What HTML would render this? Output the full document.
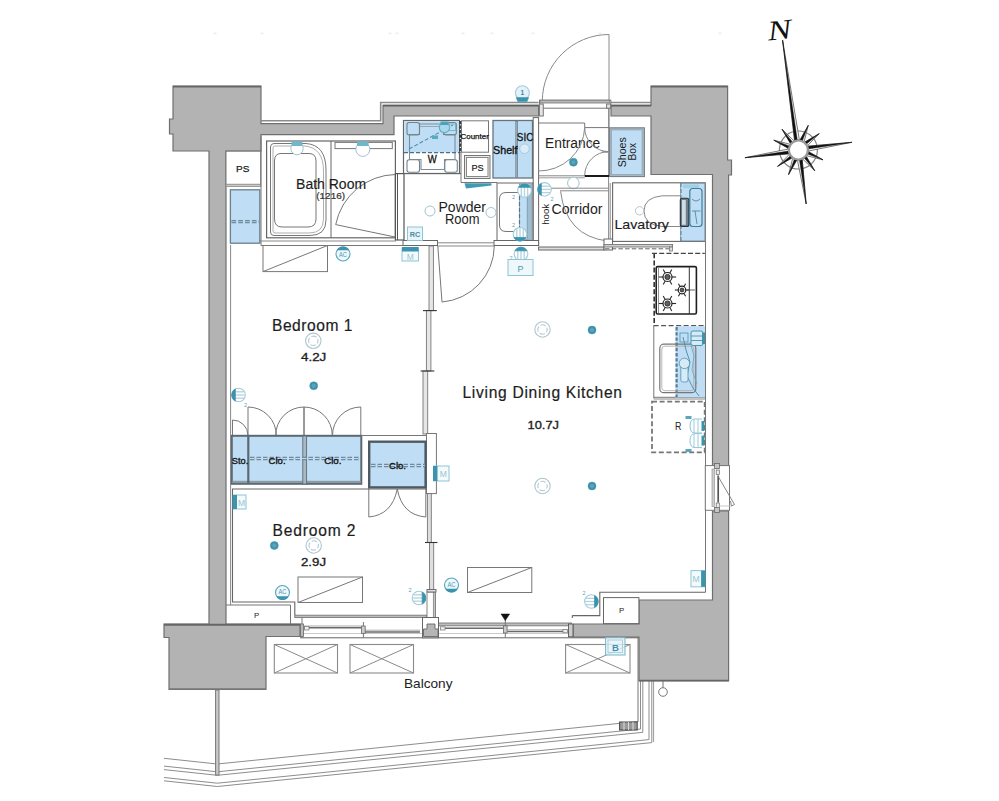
<!DOCTYPE html>
<html lang="en"><head><meta charset="utf-8"><title>Floor plan</title>
<style>html,body{margin:0;padding:0;background:#fff;overflow:hidden;}svg{display:block;}</style>
</head><body>
<svg width="999" height="801" viewBox="0 0 999 801" font-family="'Liberation Sans', sans-serif">
<rect width="999" height="801" fill="#fff"/>
<line x1="213.5" y1="33.2" x2="216.5" y2="33.2" stroke="#e4e4e4" stroke-width="1" />
<line x1="260.5" y1="33.2" x2="263.5" y2="33.2" stroke="#e4e4e4" stroke-width="1" />
<line x1="388.5" y1="33.2" x2="391.5" y2="33.2" stroke="#e4e4e4" stroke-width="1" />
<line x1="395.5" y1="33.2" x2="398.5" y2="33.2" stroke="#e4e4e4" stroke-width="1" />
<line x1="461.5" y1="33.2" x2="464.5" y2="33.2" stroke="#e4e4e4" stroke-width="1" />
<line x1="490.5" y1="33.2" x2="493.5" y2="33.2" stroke="#e4e4e4" stroke-width="1" />
<line x1="531.5" y1="33.2" x2="534.5" y2="33.2" stroke="#e4e4e4" stroke-width="1" />
<line x1="598.5" y1="33.2" x2="601.5" y2="33.2" stroke="#e4e4e4" stroke-width="1" />
<line x1="718.5" y1="33.2" x2="721.5" y2="33.2" stroke="#e4e4e4" stroke-width="1" />
<g id="railing">
<polyline points="164,758.297 217.3,764 638,721.5" fill="none" stroke="#8d8d8d" stroke-width="1" />
<polyline points="164,766.097 217.3,771.8 640.5,729.047" fill="none" stroke="#8d8d8d" stroke-width="1" />
<line x1="640.5" y1="681" x2="640.5" y2="729.047" stroke="#8d8d8d" stroke-width="1" />
<polyline points="164,769.597 217.3,775.3 642.8,732.315" fill="none" stroke="#8d8d8d" stroke-width="1" />
<line x1="642.8" y1="681" x2="642.8" y2="732.315" stroke="#8d8d8d" stroke-width="1" />
<polyline points="164,777.497 217.3,783.2 649,739.589" fill="none" stroke="#8d8d8d" stroke-width="1" />
<line x1="649" y1="681" x2="649" y2="739.589" stroke="#8d8d8d" stroke-width="1" />
<polyline points="164,780.797 217.3,786.5 651.8,742.606" fill="none" stroke="#8d8d8d" stroke-width="1" />
<line x1="651.8" y1="681" x2="651.8" y2="742.606" stroke="#8d8d8d" stroke-width="1" />
<line x1="638" y1="637" x2="638" y2="722" stroke="#777" stroke-width="1" />
<line x1="653.6" y1="681" x2="653.6" y2="742" stroke="#9a9a9a" stroke-width="1" />
<rect x="215.6" y="690" width="3.4" height="85" fill="#c9c9c9" stroke="#777" stroke-width="1" />
<rect x="619.6" y="722" width="17.6" height="8" fill="#9a9a9a" stroke="#444" stroke-width="1" />
<line x1="624" y1="722" x2="624" y2="730" stroke="#ddd" stroke-width="1" />
<line x1="628.5" y1="722" x2="628.5" y2="730" stroke="#ddd" stroke-width="1" />
<line x1="633" y1="722" x2="633" y2="730" stroke="#ddd" stroke-width="1" />
<line x1="663" y1="681" x2="663" y2="688" stroke="#777" stroke-width="1" />
<circle cx="663" cy="692" r="4.3" fill="#fff" stroke="#777" stroke-width="1" />
</g>
<g id="walls">
<polygon points="173,86 261,86 261,123.6 383,123.6 383,105.3 538.6,105.3 538.6,116 394,116 394,134.7 261,134.7 261,151 226,151 226,624 300,624 300,636.5 266,636.5 266,689.5 169,689.5 169,637.5 164,637.5 164,624 209,624 209,151 173,151 173,134 169.5,134 169.5,119 173,119" fill="#b3b3b3" stroke="#6f6f6f" stroke-width="1.2" />
<polygon points="611,105.3 651,105.3 651,86 727.6,86 727.6,160 731.5,160 731.5,175 728.6,175 728.6,466 712.5,466 712.5,174.5 651,174.5 651,116 611,116" fill="#b3b3b3" stroke="#6f6f6f" stroke-width="1.2" />
<polygon points="712.5,511 728.6,511 728.6,681 639,681 639,637 573,637 573,624 639,624 639,600 712.5,600" fill="#b3b3b3" stroke="#6f6f6f" stroke-width="1.2" />
<line x1="173" y1="86.6" x2="261" y2="86.6" stroke="#666" stroke-width="1.8" />
<line x1="164" y1="624.8" x2="300" y2="624.8" stroke="#666" stroke-width="2" />
<line x1="651" y1="86.6" x2="727.6" y2="86.6" stroke="#666" stroke-width="1.8" />
<line x1="169" y1="689" x2="266" y2="689" stroke="#777" stroke-width="1.6" />
<line x1="639" y1="680.5" x2="728.6" y2="680.5" stroke="#666" stroke-width="1.6" />
<polyline points="261,120.7 380.7,120.7 380.7,102.5 538.6,102.5" fill="none" stroke="#8c8c8c" stroke-width="1.6" />
<line x1="611" y1="102.5" x2="651" y2="102.5" stroke="#8c8c8c" stroke-width="1.6" />
<line x1="383" y1="105.6" x2="538.6" y2="105.6" stroke="#5e5e5e" stroke-width="1.6" />
<line x1="611" y1="105.6" x2="651" y2="105.6" stroke="#5e5e5e" stroke-width="1.6" />
</g>
<g id="door">
<path d="M609,34.5 L609,101 M609,34.5 A66.7,66.7 0 0 0 542.3,101" fill="none" stroke="#8a8a8a" stroke-width="1" />
<rect x="539.5" y="100.2" width="71.3" height="8" fill="#fff" stroke="#777" stroke-width="1" />
<rect x="540" y="100.2" width="69.5" height="2.8" fill="#b9b9b9" stroke="#777" stroke-width="0.8" />
<rect x="539.4" y="104" width="3.9" height="12" fill="#e4e4e4" stroke="#777" stroke-width="1" />
<rect x="606.6" y="104" width="4" height="4.2" fill="#e4e4e4" stroke="#777" stroke-width="1" />
<line x1="609" y1="108.5" x2="609" y2="128" stroke="#777" stroke-width="1" />
</g>
<g id="leftcol">
<rect x="226" y="151.2" width="34.7" height="33.8" fill="#fff" stroke="#777" stroke-width="1" />
<rect x="226" y="184.2" width="34.7" height="2.2" fill="#c9c9c9" stroke="#888" stroke-width="0.8" />
<rect x="230.4" y="189.8" width="29.4" height="53.4" fill="#bfdef5" stroke="#6b7f8c" stroke-width="1.3" />
<line x1="231.5" y1="221.6" x2="259" y2="221.6" stroke="#6c8799" stroke-width="3.4" stroke-dasharray="4.6,2.2"/>
<line x1="231.5" y1="221.6" x2="259" y2="221.6" stroke="#a9c6d8" stroke-width="1" stroke-dasharray="4.6,2.2"/>
<line x1="230.6" y1="245" x2="230.6" y2="605" stroke="#888" stroke-width="1" />
<text x="236" y="172.2" font-size="9.6" text-anchor="start" fill="#222" font-weight="normal" textLength="13.4" lengthAdjust="spacingAndGlyphs" stroke="#222" stroke-width="0.25" >PS</text>
</g>
<g id="bath">
<rect x="266.6" y="141" width="128.8" height="96.8" fill="#fff" stroke="#666" stroke-width="1.2" />
<line x1="261" y1="245.5" x2="403" y2="245.5" stroke="#777" stroke-width="1" />
<line x1="260" y1="241" x2="396" y2="241" stroke="#888" stroke-width="1" />
<line x1="261" y1="136.5" x2="261" y2="245.5" stroke="#777" stroke-width="1" />
<line x1="331" y1="141" x2="331" y2="237.8" stroke="#666" stroke-width="1" />
<path d="M274,143.5 L306,143.5 Q326,145 326,170 L326,220 Q326,235.5 310,235.5 L274,235.5 Q270.5,235.5 270.5,232 L270.5,147 Q270.5,143.5 274,143.5 Z" fill="none" stroke="#777" stroke-width="1" />
<path d="M274.5,146 L305,146 Q323.5,148 323.5,171 L323.5,219 Q323.5,233 309,233 L275,233 Q273,233 273,231 L273,148 Q273,146 274.5,146 Z" fill="none" stroke="#9a9a9a" stroke-width="0.8" />
<path d="M281,153.5 L309,153.5 Q316,153.5 316,161 L316,219 Q316,227 308,227 L282,227 Q274.5,227 274.5,219 L274.5,161 Q274.5,153.5 281,153.5 Z" fill="none" stroke="#777" stroke-width="1" />
<rect x="335" y="142.4" width="57.3" height="6.2" fill="#fff" stroke="#777" stroke-width="1" />
<path d="M395.4,174.5 A62,62 0 0 0 335.7,224.6 L395,237" fill="none" stroke="#777" stroke-width="1" />
<circle cx="297" cy="148.6" r="6.2" fill="#fff" stroke="#9fc3d0" stroke-width="1" />
<rect x="291.5" y="141.6" width="11" height="4.4" fill="#6fb7cb" stroke="none" stroke-width="0" />
<circle cx="362.8" cy="149.4" r="7" fill="#fff" stroke="#9fc3d0" stroke-width="1" />
<rect x="357" y="141.6" width="11.6" height="4.4" fill="#6fb7cb" stroke="none" stroke-width="0" />
<text x="296.1" y="188.5" font-size="14" text-anchor="start" fill="#1d1d1d" font-weight="normal" textLength="70" lengthAdjust="spacingAndGlyphs" stroke="#1d1d1d" stroke-width="0.15" >Bath Room</text>
<text x="316.3" y="198.6" font-size="8.5" text-anchor="start" fill="#333" font-weight="normal" textLength="28.7" lengthAdjust="spacingAndGlyphs" stroke="#333" stroke-width="0.2" >(1216)</text>
<rect x="395.4" y="173.6" width="8.6" height="66.4" fill="#fff" stroke="#555" stroke-width="1.2" />
<line x1="397.5" y1="174" x2="397.5" y2="240" stroke="#555" stroke-width="1" />
</g>
<g id="utility">
<rect x="403.5" y="120.5" width="56" height="53" fill="#fff" stroke="#666" stroke-width="1.2" />
<rect x="404.2" y="121.2" width="54.8" height="31.3" fill="#bfdef5" stroke="none" stroke-width="0" />
<path d="M419.5,124 L443.5,124 L443.5,134.5 L455,134.5 L455,159.5 L444.5,159.5 L444.5,169.5 L421,169.5 L421,159.5 L409.5,159.5 L409.5,134.5 L419.5,134.5 Z" fill="none" stroke="#7f8d96" stroke-width="1.1" />
<path d="M419.5,126.5 L443.5,126.5" fill="none" stroke="#8fa3ae" stroke-width="0.9" />
<rect x="407" y="122.5" width="12.5" height="12.5" fill="none" stroke="#71828c" stroke-width="1.1" rx="2.2"/>
<rect x="443.8" y="122.5" width="12.5" height="12.5" fill="none" stroke="#71828c" stroke-width="1.1" rx="2.2"/>
<rect x="407" y="159.8" width="12.5" height="12.5" fill="#fff" stroke="#71828c" stroke-width="1.1" rx="2.2"/>
<rect x="444.8" y="159.8" width="12.5" height="12.5" fill="#fff" stroke="#71828c" stroke-width="1.1" rx="2.2"/>
<line x1="404" y1="152.6" x2="459.5" y2="152.6" stroke="#4f6f80" stroke-width="1.3" stroke-dasharray="4,2"/>
<line x1="409" y1="149" x2="453" y2="125" stroke="#4f8fa6" stroke-width="1.1" stroke-dasharray="4,2"/>
<circle cx="444.5" cy="127.5" r="5.2" fill="#a8d8ea" stroke="#63b0c8" stroke-width="1.2" />
<rect x="440.5" y="121.5" width="8" height="3.5" fill="#4aa3bd" stroke="none" stroke-width="0" />
<rect x="449.5" y="124" width="6" height="6.5" fill="none" stroke="#6fb6cb" stroke-width="0.9" />
<rect x="432" y="135.5" width="6" height="3.5" fill="#5aa9c0" stroke="none" stroke-width="0" />
<line x1="460.3" y1="121" x2="460.3" y2="153" stroke="#3a3f44" stroke-width="2.4" stroke-dasharray="3.2,1.3"/>
<rect x="461.5" y="120.8" width="27" height="31.4" fill="#fff" stroke="#777" stroke-width="1" />
<text x="460.5" y="139.2" font-size="7.5" text-anchor="start" fill="#111" font-weight="normal" textLength="28.3" lengthAdjust="spacingAndGlyphs" stroke="#111" stroke-width="0.25" >Counter</text>
<text x="427.8" y="163" font-size="10.5" text-anchor="start" fill="#111" font-weight="normal" textLength="9" lengthAdjust="spacingAndGlyphs" stroke="#111" stroke-width="0.3" >W</text>
<rect x="464.5" y="155.5" width="25.5" height="23" fill="#e9e9e9" stroke="#777" stroke-width="1" />
<rect x="466.5" y="157.5" width="21.5" height="19" fill="#fff" stroke="#888" stroke-width="1" />
<text x="471.5" y="171" font-size="9.3" text-anchor="start" fill="#222" font-weight="normal" textLength="12.2" lengthAdjust="spacingAndGlyphs" stroke="#222" stroke-width="0.2" >PS</text>
<polyline points="461,152.3 461,182.5 497,182.5" fill="none" stroke="#777" stroke-width="1" />
<polygon points="464.5,183.3 491.5,183.3 491.5,185.5 466,188.5" fill="#3f9ab3" stroke="none" stroke-width="0" />
<rect x="493" y="120.5" width="39.5" height="57.5" fill="#bfdef5" stroke="#64747f" stroke-width="1.3" />
<rect x="515.8" y="121" width="1.8" height="56.5" fill="#9db4c2" stroke="#6a7b87" stroke-width="0.7" />
<circle cx="524.5" cy="148.7" r="4.8" fill="#d9ecf8" stroke="#a9c9d8" stroke-width="1" />
<text x="493" y="153.5" font-size="11.5" text-anchor="start" fill="#111" font-weight="normal" textLength="24.5" lengthAdjust="spacingAndGlyphs" stroke="#111" stroke-width="0.35" >Shelf</text>
<text x="516.8" y="141" font-size="11.5" text-anchor="start" fill="#111" font-weight="normal" textLength="16.5" lengthAdjust="spacingAndGlyphs" stroke="#111" stroke-width="0.3" >SIC</text>
<rect x="533.2" y="117.6" width="5.4" height="127.9" fill="#fff" stroke="#666" stroke-width="1" />
</g>
<g id="powder">
<line x1="403" y1="173.6" x2="461" y2="173.6" stroke="#666" stroke-width="1" />
<rect x="403" y="240.5" width="34.5" height="5" fill="#fff" stroke="#666" stroke-width="1" />
<rect x="494" y="240.5" width="44.6" height="5" fill="#fff" stroke="#666" stroke-width="1" />
<rect x="497" y="183" width="35.8" height="57.5" fill="#fff" stroke="#666" stroke-width="1" />
<rect x="519.5" y="184" width="12" height="55.5" fill="#bfdef5" stroke="#7b97a8" stroke-width="0.8" />
<path d="M519,192.5 L506,192.5 Q499.5,192.5 499.5,199 L499.5,225 Q499.5,231.5 506,231.5 L519,231.5" fill="none" stroke="#777" stroke-width="1" />
<line x1="519.5" y1="190" x2="519.5" y2="236" stroke="#55788c" stroke-width="1.2" stroke-dasharray="4,2"/>
<rect x="527.3" y="184.5" width="4.2" height="55" fill="#9fbdd0" stroke="none" stroke-width="0" />
<line x1="527.3" y1="185" x2="527.3" y2="239" stroke="#7f9fb2" stroke-width="1" />
<circle cx="524.5" cy="190.5" r="6.8" fill="#fff" stroke="#a6cbd8" stroke-width="1.1" />
<g transform="rotate(90 524.5 190.5)">
<line x1="520" y1="187.3" x2="530" y2="187.3" stroke="#b3d3de" stroke-width="1.3" />
<line x1="519.2" y1="190.5" x2="530.8" y2="190.5" stroke="#b3d3de" stroke-width="1.3" />
<line x1="520" y1="193.7" x2="530" y2="193.7" stroke="#b3d3de" stroke-width="1.3" />
<path d="M521.3,184.5 A6.8,6.8 0 0 0 521.3,196.5 Z" fill="#3b93ad" stroke="#3b93ad" stroke-width="0.8" />
</g>
<circle cx="520" cy="234.3" r="6.8" fill="#fff" stroke="#a6cbd8" stroke-width="1.1" />
<g transform="rotate(270 520 234.3)">
<line x1="515.5" y1="231.1" x2="525.5" y2="231.1" stroke="#b3d3de" stroke-width="1.3" />
<line x1="514.7" y1="234.3" x2="526.3" y2="234.3" stroke="#b3d3de" stroke-width="1.3" />
<line x1="515.5" y1="237.5" x2="525.5" y2="237.5" stroke="#b3d3de" stroke-width="1.3" />
<path d="M516.8,228.3 A6.8,6.8 0 0 0 516.8,240.3 Z" fill="#3b93ad" stroke="#3b93ad" stroke-width="0.8" />
</g>
<text x="512" y="199" font-size="5.5" text-anchor="start" fill="#5a9db3" font-weight="normal" >2</text>
<text x="512" y="227" font-size="5.5" text-anchor="start" fill="#5a9db3" font-weight="normal" >2</text>
<circle cx="430" cy="211" r="5" fill="#fff" stroke="#9fc3d0" stroke-width="1" />
<circle cx="491" cy="212.5" r="5" fill="#fff" stroke="#9fc3d0" stroke-width="1" />
<text x="438.5" y="212" font-size="14.5" text-anchor="start" fill="#1d1d1d" font-weight="normal" textLength="47.5" lengthAdjust="spacingAndGlyphs" >Powder</text>
<text x="445" y="224.2" font-size="14.5" text-anchor="start" fill="#1d1d1d" font-weight="normal" textLength="34.5" lengthAdjust="spacingAndGlyphs" >Room</text>
<rect x="407.5" y="227" width="15" height="13.5" fill="#eaf5f9" stroke="#8fc4d4" stroke-width="1" />
<text x="415" y="237" font-size="7.8" text-anchor="middle" fill="#3f8fa8" font-weight="bold" textLength="10.5" lengthAdjust="spacingAndGlyphs" >RC</text>
<line x1="437.5" y1="242.8" x2="494" y2="242.8" stroke="#888" stroke-width="1" />
<line x1="437.5" y1="246" x2="494" y2="246" stroke="#888" stroke-width="1" />
<path d="M437.8,246 L442,302 A56.7,56.7 0 0 0 494.3,246" fill="none" stroke="#777" stroke-width="1" />
</g>
<g id="entrance">
<line x1="608.6" y1="108.5" x2="608.6" y2="246" stroke="#8a8a8a" stroke-width="1" />
<polyline points="538.6,123 584.7,123 584.7,127.6 609,127.6" fill="none" stroke="#777" stroke-width="1" />
<rect x="609.6" y="127.8" width="34.8" height="48.8" fill="#a9b7c1" stroke="#6d7a84" stroke-width="1" />
<rect x="611.6" y="130" width="30.4" height="44.3" fill="#bfdef5" stroke="#8aa0ae" stroke-width="0.6" />
<text transform="translate(626.2,152.3) rotate(-90)" font-size="11.5" text-anchor="middle" fill="#222" textLength="30" lengthAdjust="spacingAndGlyphs">Shoes</text>
<text transform="translate(636,151.7) rotate(-90)" font-size="11.5" text-anchor="middle" fill="#222" textLength="17.5" lengthAdjust="spacingAndGlyphs">Box</text>
<text x="545" y="147.8" font-size="14" text-anchor="start" fill="#1d1d1d" font-weight="normal" textLength="55.3" lengthAdjust="spacingAndGlyphs" >Entrance</text>
<circle cx="573.4" cy="162.2" r="4" fill="#3f93ad" stroke="#3f93ad" stroke-width="0.5" />
<circle cx="573.4" cy="162.2" r="2" fill="#5aa4ba" stroke="none" stroke-width="0" />
<path d="M538,171 A46,45 0 0 0 584.7,127.6" fill="none" stroke="#888" stroke-width="1" />
<path d="M584.7,127.6 A24,24 0 0 0 608.6,151.6" fill="none" stroke="#888" stroke-width="1" />
<path d="M608.6,151.6 A24,24 0 0 0 584.7,175.6" fill="none" stroke="#888" stroke-width="1" />
<line x1="602" y1="151.8" x2="608.6" y2="152.2" stroke="#888" stroke-width="1" />
<line x1="538.6" y1="175.8" x2="584.7" y2="175.8" stroke="#888" stroke-width="1" />
<line x1="538.6" y1="177.8" x2="584.7" y2="177.8" stroke="#999" stroke-width="1" />
<line x1="584.7" y1="176" x2="609" y2="176" stroke="#1a1a1a" stroke-width="2" />
<circle cx="573.4" cy="183" r="5.8" fill="#fff" stroke="#9fc3d0" stroke-width="1" />
<line x1="538.6" y1="188.2" x2="608.6" y2="188.2" stroke="#888" stroke-width="1" />
<line x1="560" y1="190.8" x2="608.6" y2="190.8" stroke="#888" stroke-width="1" />
<circle cx="544.5" cy="189.4" r="6.8" fill="#fff" stroke="#a6cbd8" stroke-width="1.1" />
<g transform="rotate(0 544.5 189.4)">
<line x1="540" y1="186.2" x2="550" y2="186.2" stroke="#b3d3de" stroke-width="1.3" />
<line x1="539.2" y1="189.4" x2="550.8" y2="189.4" stroke="#b3d3de" stroke-width="1.3" />
<line x1="540" y1="192.6" x2="550" y2="192.6" stroke="#b3d3de" stroke-width="1.3" />
<path d="M541.3,183.4 A6.8,6.8 0 0 0 541.3,195.4 Z" fill="#3b93ad" stroke="#3b93ad" stroke-width="0.8" />
</g>
<text x="550.5" y="200.5" font-size="5.5" text-anchor="start" fill="#5a9db3" font-weight="normal" >2</text>
<text transform="translate(548.7,214.3) rotate(-90)" font-size="8.3" text-anchor="middle" fill="#222" textLength="21" lengthAdjust="spacingAndGlyphs">hook</text>
<text x="551.5" y="214" font-size="14" text-anchor="start" fill="#1d1d1d" font-weight="normal" textLength="51" lengthAdjust="spacingAndGlyphs" >Corridor</text>
<path d="M560.6,191.4 Q566,236 607.5,241" fill="none" stroke="#888" stroke-width="1" />
<rect x="538.6" y="247" width="65.4" height="3" fill="#ddd" stroke="#666" stroke-width="1" />
<rect x="604" y="239" width="8.5" height="11" fill="#fff" stroke="#666" stroke-width="1" />
<line x1="610.2" y1="183" x2="610.2" y2="239" stroke="#888" stroke-width="1" />
</g>
<g id="lav">
<rect x="612.6" y="182.8" width="92.7" height="58.6" fill="#fff" stroke="#666" stroke-width="1.1" />
<rect x="680.5" y="183.4" width="24.3" height="57.4" fill="#bfdef5" stroke="#7d9aad" stroke-width="0.8" />
<line x1="681" y1="183" x2="681" y2="241" stroke="#5c7f93" stroke-width="1" stroke-dasharray="4,2"/>
<path d="M680.5,195.8 L662,195.8 Q644,197.5 644,211 Q644,224.8 662,226.5 L680.5,226.5" fill="none" stroke="#888" stroke-width="1" />
<rect x="680.3" y="198.2" width="8.6" height="28.3" fill="#6f7e88" stroke="#2c3338" stroke-width="1.1" rx="2"/>
<rect x="682" y="200" width="3.8" height="24.8" fill="#cfdde6" stroke="none" stroke-width="0" />
<rect x="689.8" y="188.5" width="12.2" height="38" fill="none" stroke="#3f7f98" stroke-width="1.2" rx="3"/>
<path d="M692,199 Q696,203 700,199" fill="none" stroke="#4d8ba3" stroke-width="0.9" />
<path d="M692,211 L700.5,211 M695,211 L697,224" fill="none" stroke="#4d8ba3" stroke-width="0.9" />
<rect x="683" y="184.5" width="16" height="3.5" fill="#9fd0e4" stroke="none" stroke-width="0" />
<circle cx="639.6" cy="210.8" r="4.2" fill="none" stroke="#b4c7d0" stroke-width="1" />
<text x="614.4" y="228.6" font-size="13.3" text-anchor="start" fill="#1d1d1d" font-weight="normal" textLength="54.6" lengthAdjust="spacingAndGlyphs" stroke="#1d1d1d" stroke-width="0.15" >Lavatory</text>
<rect x="604" y="244.5" width="68.6" height="2.5" fill="#d0d0d0" stroke="#777" stroke-width="0.9" />
<line x1="605" y1="248.8" x2="670" y2="248.8" stroke="#666" stroke-width="1" stroke-dasharray="4.5,2.2"/>
<rect x="669.6" y="247" width="3" height="4" fill="#ddd" stroke="#777" stroke-width="0.8" />
</g>
<g id="kitchen">
<line x1="705.5" y1="241.4" x2="705.5" y2="592.3" stroke="#777" stroke-width="1" />
<line x1="653.8" y1="325.6" x2="653.8" y2="398.5" stroke="#777" stroke-width="1" />
<line x1="654.2" y1="253.2" x2="654.2" y2="325.6" stroke="#333" stroke-width="1.6" stroke-dasharray="5,2.2"/>
<line x1="652" y1="253.4" x2="704.8" y2="253.4" stroke="#444" stroke-width="1.4" stroke-dasharray="5,2.2"/>
<line x1="653.6" y1="325.6" x2="705" y2="325.6" stroke="#555" stroke-width="1.2" stroke-dasharray="5,2.5"/>
<line x1="653.8" y1="397.3" x2="705.3" y2="397.3" stroke="#777" stroke-width="1" />
<line x1="653.8" y1="399" x2="705.3" y2="399" stroke="#888" stroke-width="1" />
<rect x="656.2" y="266.6" width="40.2" height="47.4" fill="#fff" stroke="#1f1f1f" stroke-width="1.6" rx="1.5"/>
<line x1="689.3" y1="267" x2="689.3" y2="314" stroke="#333" stroke-width="1" />
<line x1="658.5" y1="268" x2="658.5" y2="313" stroke="#777" stroke-width="0.8" />
<line x1="671" y1="277" x2="676.1" y2="277" stroke="#2b2b2b" stroke-width="1.1" />
<line x1="669.25" y1="280.031" x2="671.8" y2="284.448" stroke="#2b2b2b" stroke-width="1.1" />
<line x1="665.75" y1="280.031" x2="663.2" y2="284.448" stroke="#2b2b2b" stroke-width="1.1" />
<line x1="664" y1="277" x2="658.9" y2="277" stroke="#2b2b2b" stroke-width="1.1" />
<line x1="665.75" y1="273.969" x2="663.2" y2="269.552" stroke="#2b2b2b" stroke-width="1.1" />
<line x1="669.25" y1="273.969" x2="671.8" y2="269.552" stroke="#2b2b2b" stroke-width="1.1" />
<circle cx="667.5" cy="277" r="4.5" fill="#fff" stroke="#1f1f1f" stroke-width="1.2" />
<circle cx="667.5" cy="277" r="2.6" fill="#5f5f5f" stroke="#333" stroke-width="1" />
<line x1="684.8" y1="290" x2="689.2" y2="290" stroke="#2b2b2b" stroke-width="1.1" />
<line x1="683.4" y1="292.425" x2="685.6" y2="296.235" stroke="#2b2b2b" stroke-width="1.1" />
<line x1="680.6" y1="292.425" x2="678.4" y2="296.235" stroke="#2b2b2b" stroke-width="1.1" />
<line x1="679.2" y1="290" x2="674.8" y2="290" stroke="#2b2b2b" stroke-width="1.1" />
<line x1="680.6" y1="287.575" x2="678.4" y2="283.765" stroke="#2b2b2b" stroke-width="1.1" />
<line x1="683.4" y1="287.575" x2="685.6" y2="283.765" stroke="#2b2b2b" stroke-width="1.1" />
<circle cx="682" cy="290" r="3.8" fill="#fff" stroke="#1f1f1f" stroke-width="1.2" />
<circle cx="682" cy="290" r="1.9" fill="#5f5f5f" stroke="#333" stroke-width="1" />
<line x1="671" y1="303.5" x2="676.1" y2="303.5" stroke="#2b2b2b" stroke-width="1.1" />
<line x1="669.25" y1="306.531" x2="671.8" y2="310.948" stroke="#2b2b2b" stroke-width="1.1" />
<line x1="665.75" y1="306.531" x2="663.2" y2="310.948" stroke="#2b2b2b" stroke-width="1.1" />
<line x1="664" y1="303.5" x2="658.9" y2="303.5" stroke="#2b2b2b" stroke-width="1.1" />
<line x1="665.75" y1="300.469" x2="663.2" y2="296.052" stroke="#2b2b2b" stroke-width="1.1" />
<line x1="669.25" y1="300.469" x2="671.8" y2="296.052" stroke="#2b2b2b" stroke-width="1.1" />
<circle cx="667.5" cy="303.5" r="4.5" fill="#fff" stroke="#1f1f1f" stroke-width="1.2" />
<circle cx="667.5" cy="303.5" r="2.6" fill="#5f5f5f" stroke="#333" stroke-width="1" />
<line x1="687" y1="290" x2="695" y2="290" stroke="#555" stroke-width="0.9" />
<rect x="675.6" y="326.2" width="29.4" height="71.1" fill="#bfdef5" stroke="none" stroke-width="0" />
<line x1="676.6" y1="327" x2="676.6" y2="397" stroke="#5a7d92" stroke-width="2.2" stroke-dasharray="3.4,1.8"/>
<rect x="659.8" y="344.2" width="36" height="48.5" fill="none" stroke="#777" stroke-width="1.2" rx="4"/>
<rect x="661.8" y="346.2" width="32" height="44.5" fill="none" stroke="#a5a5a5" stroke-width="0.8" rx="3"/>
<path d="M683,337 L686,350 L690,362 L687,376 L693,388 L699,396" fill="none" stroke="#4a8aa3" stroke-width="0.9" />
<path d="M690,342 L694,356 L692,370 L697,384" fill="none" stroke="#6aa7bd" stroke-width="0.8" />
<rect x="680.8" y="364" width="7.2" height="18" fill="#d7ebf7" stroke="#5b9bb5" stroke-width="0.9" rx="2"/>
<circle cx="684.4" cy="363.4" r="5.2" fill="#d7ebf7" stroke="#5b9bb5" stroke-width="0.9" />
<rect x="680" y="333" width="8" height="9" fill="none" stroke="#5b9bb5" stroke-width="0.9" />
<rect x="691" y="331" width="12" height="14.5" fill="#d7ebf7" stroke="#4b93ae" stroke-width="1" rx="2"/>
<line x1="691" y1="336" x2="703" y2="336" stroke="#4b93ae" stroke-width="0.9" />
<line x1="691" y1="340.5" x2="703" y2="340.5" stroke="#4b93ae" stroke-width="0.9" />
<rect x="702" y="332.5" width="3" height="11.5" fill="#3b93ad" stroke="none" stroke-width="0" />
<rect x="652" y="401.6" width="52.7" height="50.8" fill="none" stroke="#777" stroke-width="1.8" stroke-dasharray="5,2.6"/>
<text x="675" y="430.3" font-size="10" text-anchor="start" fill="#222" font-weight="normal" textLength="6.4" lengthAdjust="spacingAndGlyphs" >R</text>
<path d="M702,419 L695,419 Q690,419 690,426 Q690,433 695,433 L702,433" fill="#fff" stroke="#8fc4d4" stroke-width="1" />
<line x1="694" y1="419.5" x2="694" y2="432.5" stroke="#8fc4d4" stroke-width="0.9" />
<line x1="698" y1="419.5" x2="698" y2="432.5" stroke="#8fc4d4" stroke-width="0.9" />
<rect x="701.5" y="421" width="3" height="10" fill="#3b93ad" stroke="none" stroke-width="0" />
<path d="M702,433.6 L695,433.6 Q690,433.6 690,440.6 Q690,447.6 695,447.6 L702,447.6" fill="#fff" stroke="#8fc4d4" stroke-width="1" />
<line x1="694" y1="434.1" x2="694" y2="447.1" stroke="#8fc4d4" stroke-width="0.9" />
<line x1="698" y1="434.1" x2="698" y2="447.1" stroke="#8fc4d4" stroke-width="0.9" />
<rect x="701.5" y="435.6" width="3" height="10" fill="#3b93ad" stroke="none" stroke-width="0" />
<rect x="685.5" y="416" width="6" height="3" fill="#5aa6bd" stroke="none" stroke-width="0" />
<rect x="685.5" y="449" width="6" height="3" fill="#5aa6bd" stroke="none" stroke-width="0" />
</g>
<g id="rwin">
<rect x="705.3" y="465.6" width="24.2" height="44.7" fill="#fff" stroke="#777" stroke-width="1" />
<rect x="712" y="469" width="2.5" height="37.5" fill="#cdcdcd" stroke="#999" stroke-width="0.7" />
<rect x="714.5" y="463.5" width="5" height="5" fill="#c4c4c4" stroke="#666" stroke-width="0.8" />
<rect x="714.5" y="507.5" width="5" height="5" fill="#c4c4c4" stroke="#666" stroke-width="0.8" />
<rect x="716.2" y="470" width="3.1" height="4.5" fill="#eee" stroke="#666" stroke-width="0.7" />
<rect x="716.2" y="503" width="3.1" height="4.5" fill="#eee" stroke="#666" stroke-width="0.7" />
<line x1="718.2" y1="475.5" x2="718.2" y2="502.5" stroke="#555" stroke-width="1.7" />
<path d="M718.2,476.5 L734.5,504.5 L731.5,506 L730.5,501" fill="none" stroke="#777" stroke-width="0.9" />
<line x1="719.5" y1="506" x2="731.5" y2="506" stroke="#bbb" stroke-width="0.8" />
</g>
<g id="bed1">
<rect x="263" y="245.5" width="64.5" height="26.1" fill="#fff" stroke="#777" stroke-width="1" />
<line x1="263" y1="271.6" x2="327.5" y2="245.5" stroke="#777" stroke-width="1" />
<circle cx="343" cy="254" r="7" fill="#eef7fb" stroke="#56a5bd" stroke-width="1.1" />
<path d="M336.8,250.2 A7,7 0 0 1 349.2,250.2 Z" fill="#3b93ad" stroke="none" stroke-width="0" />
<text x="343" y="257.4" font-size="6.5" text-anchor="middle" fill="#4c9ab3" font-weight="normal" textLength="8" lengthAdjust="spacingAndGlyphs" >AC</text>
<rect x="402" y="248" width="16.5" height="13" fill="#f3fafc" stroke="#8fc4d4" stroke-width="1" />
<rect x="402" y="247" width="16.5" height="4.5" fill="#3b93ad" stroke="none" stroke-width="0" />
<text x="410.25" y="259.5" font-size="8.5" text-anchor="middle" fill="#9ac5d2" font-weight="normal" >M</text>
<circle cx="313.3" cy="340.8" r="7.7" fill="#fff" stroke="#adc6d1" stroke-width="1.1" />
<circle cx="313.3" cy="340.8" r="4.7" fill="none" stroke="#b4cbd5" stroke-width="1.1" stroke-dasharray="5.4,2" stroke-dashoffset="2.7"/>
<circle cx="313.7" cy="385.8" r="4" fill="#3f93ad" stroke="#3f93ad" stroke-width="0.5" />
<circle cx="313.7" cy="385.8" r="2" fill="#5aa4ba" stroke="none" stroke-width="0" />
<circle cx="238.5" cy="395" r="6.8" fill="#fff" stroke="#a6cbd8" stroke-width="1.1" />
<g transform="rotate(0 238.5 395)">
<line x1="234" y1="391.8" x2="244" y2="391.8" stroke="#b3d3de" stroke-width="1.3" />
<line x1="233.2" y1="395" x2="244.8" y2="395" stroke="#b3d3de" stroke-width="1.3" />
<line x1="234" y1="398.2" x2="244" y2="398.2" stroke="#b3d3de" stroke-width="1.3" />
<path d="M235.3,389 A6.8,6.8 0 0 0 235.3,401 Z" fill="#3b93ad" stroke="#3b93ad" stroke-width="0.8" />
</g>
<text x="244" y="407" font-size="5.5" text-anchor="start" fill="#5a9db3" font-weight="normal" >2</text>
<text x="272" y="330.5" font-size="15.6" text-anchor="start" fill="#1d1d1d" font-weight="normal" textLength="80.5" lengthAdjust="spacing" stroke="#1d1d1d" stroke-width="0.2" >Bedroom 1</text>
<text x="301" y="361.2" font-size="11.5" text-anchor="start" fill="#1d1d1d" font-weight="normal" textLength="25.3" lengthAdjust="spacingAndGlyphs" stroke="#1d1d1d" stroke-width="0.35" >4.2J</text>
<rect x="429" y="246" width="4.4" height="64.6" fill="#e6e6e6" stroke="#777" stroke-width="0.9" />
<rect x="426.4" y="310.6" width="4.5" height="60.4" fill="#e6e6e6" stroke="#777" stroke-width="0.9" />
<rect x="423" y="371" width="4.7" height="63" fill="#e6e6e6" stroke="#777" stroke-width="0.9" />
<line x1="423" y1="310.6" x2="436.8" y2="310.6" stroke="#333" stroke-width="1.1" />
<line x1="420.6" y1="371" x2="434.3" y2="371" stroke="#333" stroke-width="1.1" />
<line x1="248" y1="407" x2="248" y2="435.5" stroke="#777" stroke-width="1" />
<path d="M248,407 A28.3,28.3 0 0 1 276.3,435.5" fill="none" stroke="#777" stroke-width="1" />
<line x1="304" y1="407" x2="304" y2="435.5" stroke="#777" stroke-width="1" />
<path d="M304,407 A28.3,28.3 0 0 0 275.7,435.5" fill="none" stroke="#777" stroke-width="1" />
<line x1="304" y1="407" x2="304" y2="435.5" stroke="#777" stroke-width="1" />
<path d="M304,407 A28.3,28.3 0 0 1 332.3,435.5" fill="none" stroke="#777" stroke-width="1" />
<line x1="360.8" y1="407" x2="360.8" y2="435.5" stroke="#777" stroke-width="1" />
<path d="M360.8,407 A28.3,28.3 0 0 0 332.5,435.5" fill="none" stroke="#777" stroke-width="1" />
<path d="M232.5,435.5 L232.5,420 A15.5,15.5 0 0 1 248,435.5" fill="none" stroke="#777" stroke-width="1" />
</g>
<g id="closets">
<rect x="231.8" y="435.8" width="129.5" height="48" fill="#bfdef5" stroke="#5c6973" stroke-width="2" />
<rect x="232.5" y="480.8" width="128" height="2.2" fill="#8d9ba5" stroke="none" stroke-width="0" />
<line x1="248.3" y1="435.5" x2="248.3" y2="484" stroke="#5c6973" stroke-width="2.2" />
<rect x="302.8" y="436" width="3.8" height="48" fill="#a9b9c4" stroke="#5d6b75" stroke-width="0.9" />
<line x1="250" y1="458.5" x2="360" y2="458.5" stroke="#71899a" stroke-width="3.4" stroke-dasharray="4.5,2"/>
<line x1="250" y1="458.5" x2="360" y2="458.5" stroke="#bfdef5" stroke-width="1" stroke-dasharray="4.5,2"/>
<text x="231.8" y="463.8" font-size="8.5" text-anchor="start" fill="#111" font-weight="normal" textLength="16.5" lengthAdjust="spacingAndGlyphs" stroke="#111" stroke-width="0.3" >Sto.</text>
<text x="268.6" y="463.8" font-size="8.5" text-anchor="start" fill="#111" font-weight="normal" textLength="17" lengthAdjust="spacingAndGlyphs" stroke="#111" stroke-width="0.3" >Clo.</text>
<text x="324.2" y="463.8" font-size="8.5" text-anchor="start" fill="#111" font-weight="normal" textLength="17.3" lengthAdjust="spacingAndGlyphs" stroke="#111" stroke-width="0.3" >Clo.</text>
<rect x="426.5" y="433.5" width="9.9" height="60.1" fill="#fff" stroke="#777" stroke-width="1" />
<line x1="361" y1="435.5" x2="426" y2="435.5" stroke="#777" stroke-width="1" />
<rect x="369.2" y="441.7" width="56.4" height="45.7" fill="#bfdef5" stroke="#4e5a63" stroke-width="2.4" />
<line x1="371" y1="465.5" x2="424.5" y2="465.5" stroke="#71899a" stroke-width="3.4" stroke-dasharray="4.5,2"/>
<line x1="371" y1="465.5" x2="424.5" y2="465.5" stroke="#bfdef5" stroke-width="1" stroke-dasharray="4.5,2"/>
<text x="389" y="468.8" font-size="8.5" text-anchor="start" fill="#111" font-weight="normal" textLength="17" lengthAdjust="spacingAndGlyphs" stroke="#111" stroke-width="0.3" >Clo.</text>
<line x1="368.8" y1="488" x2="368.8" y2="517" stroke="#777" stroke-width="1" />
<line x1="425.8" y1="488" x2="425.8" y2="517" stroke="#777" stroke-width="1" />
<path d="M368.8,517 Q392,515 397.3,489" fill="none" stroke="#777" stroke-width="1" />
<path d="M425.8,517 Q402,515 397.3,489" fill="none" stroke="#777" stroke-width="1" />
<rect x="434" y="466" width="15" height="15" fill="#f3fafc" stroke="#8fc4d4" stroke-width="1" />
<rect x="433" y="466" width="4.5" height="15" fill="#3b93ad" stroke="none" stroke-width="0" />
<text x="443.25" y="477" font-size="8.5" text-anchor="middle" fill="#9ac5d2" font-weight="normal" >M</text>
</g>
<g id="bed2">
<polyline points="426.5,489 232.5,489 232.5,602 294.8,602 294.8,615" fill="none" stroke="#666" stroke-width="1.1" />
<rect x="294.8" y="615.2" width="132.2" height="2.4" fill="#bdbdbd" stroke="#777" stroke-width="0.9" />
<line x1="290.5" y1="605" x2="290.5" y2="624" stroke="#777" stroke-width="1" />
<line x1="226" y1="605" x2="290.5" y2="605" stroke="#777" stroke-width="1" />
<rect x="233.5" y="495" width="12.5" height="14" fill="#f3fafc" stroke="#8fc4d4" stroke-width="1" />
<rect x="232.5" y="495" width="4.5" height="14" fill="#3b93ad" stroke="none" stroke-width="0" />
<text x="241.5" y="505.5" font-size="8.5" text-anchor="middle" fill="#9ac5d2" font-weight="normal" >M</text>
<text x="272.5" y="535.8" font-size="15.6" text-anchor="start" fill="#1d1d1d" font-weight="normal" textLength="83" lengthAdjust="spacing" stroke="#1d1d1d" stroke-width="0.2" >Bedroom 2</text>
<circle cx="274.3" cy="545.5" r="4" fill="#3f93ad" stroke="#3f93ad" stroke-width="0.5" />
<circle cx="274.3" cy="545.5" r="2" fill="#5aa4ba" stroke="none" stroke-width="0" />
<circle cx="313.7" cy="545.5" r="7.7" fill="#fff" stroke="#adc6d1" stroke-width="1.1" />
<circle cx="313.7" cy="545.5" r="4.7" fill="none" stroke="#b4cbd5" stroke-width="1.1" stroke-dasharray="5.4,2" stroke-dashoffset="2.7"/>
<text x="301" y="566" font-size="11.5" text-anchor="start" fill="#1d1d1d" font-weight="normal" textLength="25" lengthAdjust="spacingAndGlyphs" stroke="#1d1d1d" stroke-width="0.35" >2.9J</text>
<rect x="298" y="577" width="64.5" height="25.5" fill="#fff" stroke="#777" stroke-width="1" />
<line x1="298" y1="602.5" x2="362.5" y2="577" stroke="#777" stroke-width="1" />
<circle cx="282.5" cy="592.5" r="7" fill="#eef7fb" stroke="#56a5bd" stroke-width="1.1" />
<path d="M276.3,596.3 A7,7 0 0 0 288.7,596.3 Z" fill="#3b93ad" stroke="none" stroke-width="0" />
<text x="282.5" y="594.3" font-size="6.5" text-anchor="middle" fill="#4c9ab3" font-weight="normal" textLength="8" lengthAdjust="spacingAndGlyphs" >AC</text>
<text x="254" y="617.5" font-size="7.8" text-anchor="start" fill="#222" font-weight="normal" >P</text>
<rect x="427.4" y="493.6" width="3.9" height="48.9" fill="#dedede" stroke="#777" stroke-width="0.9" />
<rect x="429.5" y="542.5" width="4.2" height="47" fill="#dedede" stroke="#777" stroke-width="0.9" />
<line x1="425" y1="542.5" x2="437.5" y2="542.5" stroke="#333" stroke-width="1.1" />
<rect x="427" y="592" width="8.5" height="25.5" fill="#fff" stroke="#777" stroke-width="0.9" />
<rect x="433.3" y="592" width="2.2" height="25.5" fill="#c4c4c4" stroke="#777" stroke-width="0.7" />
<rect x="427" y="589.5" width="9" height="2.5" fill="#ddd" stroke="#666" stroke-width="0.9" />
<circle cx="419" cy="598" r="6.8" fill="#fff" stroke="#a6cbd8" stroke-width="1.1" />
<g transform="rotate(180 419 598)">
<line x1="414.5" y1="594.8" x2="424.5" y2="594.8" stroke="#b3d3de" stroke-width="1.3" />
<line x1="413.7" y1="598" x2="425.3" y2="598" stroke="#b3d3de" stroke-width="1.3" />
<line x1="414.5" y1="601.2" x2="424.5" y2="601.2" stroke="#b3d3de" stroke-width="1.3" />
<path d="M415.8,592 A6.8,6.8 0 0 0 415.8,604 Z" fill="#3b93ad" stroke="#3b93ad" stroke-width="0.8" />
</g>
<text x="408.5" y="592" font-size="5.5" text-anchor="start" fill="#5a9db3" font-weight="normal" >2</text>
</g>
<g id="ldk">
<circle cx="542.5" cy="329.5" r="7.7" fill="#fff" stroke="#adc6d1" stroke-width="1.1" />
<circle cx="542.5" cy="329.5" r="4.7" fill="none" stroke="#b4cbd5" stroke-width="1.1" stroke-dasharray="5.4,2" stroke-dashoffset="2.7"/>
<circle cx="592" cy="330" r="4" fill="#3f93ad" stroke="#3f93ad" stroke-width="0.5" />
<circle cx="592" cy="330" r="2" fill="#5aa4ba" stroke="none" stroke-width="0" />
<circle cx="542.5" cy="486" r="7.7" fill="#fff" stroke="#adc6d1" stroke-width="1.1" />
<circle cx="542.5" cy="486" r="4.7" fill="none" stroke="#b4cbd5" stroke-width="1.1" stroke-dasharray="5.4,2" stroke-dashoffset="2.7"/>
<circle cx="592" cy="486" r="4" fill="#3f93ad" stroke="#3f93ad" stroke-width="0.5" />
<circle cx="592" cy="486" r="2" fill="#5aa4ba" stroke="none" stroke-width="0" />
<text x="462.5" y="398" font-size="15.6" text-anchor="start" fill="#1d1d1d" font-weight="normal" textLength="159.5" lengthAdjust="spacing" stroke="#1d1d1d" stroke-width="0.2" >Living Dining Kitchen</text>
<text x="527.5" y="428.8" font-size="11.5" text-anchor="start" fill="#1d1d1d" font-weight="normal" textLength="31.5" lengthAdjust="spacingAndGlyphs" stroke="#1d1d1d" stroke-width="0.35" >10.7J</text>
<rect x="467.5" y="567.5" width="64.3" height="25" fill="#fff" stroke="#777" stroke-width="1" />
<line x1="467.5" y1="592.5" x2="531.8" y2="567.5" stroke="#777" stroke-width="1" />
<circle cx="451.5" cy="585" r="7" fill="#eef7fb" stroke="#56a5bd" stroke-width="1.1" />
<path d="M445.3,588.8 A7,7 0 0 0 457.7,588.8 Z" fill="#3b93ad" stroke="none" stroke-width="0" />
<text x="451.5" y="586.8" font-size="6.5" text-anchor="middle" fill="#4c9ab3" font-weight="normal" textLength="8" lengthAdjust="spacingAndGlyphs" >AC</text>
<rect x="691" y="570.6" width="13.6" height="16.2" fill="#f3fafc" stroke="#8fc4d4" stroke-width="1" />
<rect x="701.1" y="570.6" width="4.5" height="16.2" fill="#3b93ad" stroke="none" stroke-width="0" />
<text x="696.05" y="582.2" font-size="8.5" text-anchor="middle" fill="#9ac5d2" font-weight="normal" >M</text>
<circle cx="591.4" cy="601.5" r="6.8" fill="#fff" stroke="#a6cbd8" stroke-width="1.1" />
<g transform="rotate(180 591.4 601.5)">
<line x1="586.9" y1="598.3" x2="596.9" y2="598.3" stroke="#b3d3de" stroke-width="1.3" />
<line x1="586.1" y1="601.5" x2="597.7" y2="601.5" stroke="#b3d3de" stroke-width="1.3" />
<line x1="586.9" y1="604.7" x2="596.9" y2="604.7" stroke="#b3d3de" stroke-width="1.3" />
<path d="M588.2,595.5 A6.8,6.8 0 0 0 588.2,607.5 Z" fill="#3b93ad" stroke="#3b93ad" stroke-width="0.8" />
</g>
<text x="582.5" y="595" font-size="5.5" text-anchor="start" fill="#5a9db3" font-weight="normal" >2</text>
<circle cx="521" cy="254" r="6.8" fill="#fff" stroke="#a6cbd8" stroke-width="1.1" />
<g transform="rotate(90 521 254)">
<line x1="516.5" y1="250.8" x2="526.5" y2="250.8" stroke="#b3d3de" stroke-width="1.3" />
<line x1="515.7" y1="254" x2="527.3" y2="254" stroke="#b3d3de" stroke-width="1.3" />
<line x1="516.5" y1="257.2" x2="526.5" y2="257.2" stroke="#b3d3de" stroke-width="1.3" />
<path d="M517.8,248 A6.8,6.8 0 0 0 517.8,260 Z" fill="#3b93ad" stroke="#3b93ad" stroke-width="0.8" />
</g>
<text x="509.5" y="260" font-size="5.5" text-anchor="start" fill="#5a9db3" font-weight="normal" >2</text>
<rect x="508" y="259.5" width="25" height="16" fill="#eef7fa" stroke="#8fc4d4" stroke-width="1" />
<text x="520.5" y="271.5" font-size="9" text-anchor="middle" fill="#4c9ab3" font-weight="normal" >P</text>
<circle cx="522.4" cy="92.8" r="7" fill="#e3f2f8" stroke="#a6cbd8" stroke-width="1.1" />
<polygon points="516.2,97.6 528.6,97.6 527,101.6 517.8,101.6" fill="#3b93ad" stroke="#3b93ad" stroke-width="0.6" />
<text x="522.4" y="95" font-size="6.5" text-anchor="middle" fill="#2f88a3" font-weight="bold" >1</text>
<line x1="572.3" y1="615.6" x2="572.3" y2="632" stroke="#666" stroke-width="1.1" />
<polyline points="572.3,615.6 599.8,615.6 599.8,592.3 705.5,592.3" fill="none" stroke="#666" stroke-width="1.1" />
<rect x="603.5" y="597.6" width="35.4" height="26" fill="#fff" stroke="#666" stroke-width="1" />
<text x="619" y="612.6" font-size="7.8" text-anchor="start" fill="#222" font-weight="normal" >P</text>
</g>
<g id="swin">
<rect x="301" y="618" width="272" height="19.5" fill="#fff" stroke="none" stroke-width="0" />
<line x1="300" y1="637.8" x2="638.5" y2="637.8" stroke="#666" stroke-width="1" />
<line x1="302" y1="617.6" x2="302" y2="637.8" stroke="#777" stroke-width="1" />
<line x1="423" y1="617.6" x2="423" y2="637.8" stroke="#777" stroke-width="1" />
<line x1="304" y1="627.8" x2="361.5" y2="627.8" stroke="#6a6a6a" stroke-width="1.5" />
<line x1="304" y1="626" x2="361.5" y2="626" stroke="#aaa" stroke-width="1" />
<line x1="365" y1="631.9" x2="420" y2="631.9" stroke="#6a6a6a" stroke-width="1.5" />
<line x1="365" y1="630.2" x2="420" y2="630.2" stroke="#aaa" stroke-width="1" />
<line x1="302" y1="633.5" x2="423" y2="633.5" stroke="#bbb" stroke-width="0.8" />
<rect x="300.5" y="624" width="3" height="12.5" fill="#bbb" stroke="#666" stroke-width="0.8" />
<rect x="304.5" y="626.5" width="4.5" height="3.5" fill="#eee" stroke="#777" stroke-width="0.7" />
<rect x="438.5" y="623" width="132.9" height="2.8" fill="#bdbdbd" stroke="#777" stroke-width="0.9" />
<line x1="442.4" y1="628.2" x2="503.3" y2="628.2" stroke="#6a6a6a" stroke-width="1.5" />
<line x1="507.3" y1="631.5" x2="567.4" y2="631.5" stroke="#6a6a6a" stroke-width="1.5" />
<line x1="507.3" y1="629.8" x2="567.4" y2="629.8" stroke="#aaa" stroke-width="1" />
<line x1="438.5" y1="633.5" x2="571.4" y2="633.5" stroke="#bbb" stroke-width="0.8" />
<rect x="440.5" y="626.8" width="4.5" height="3.2" fill="#eee" stroke="#777" stroke-width="0.7" />
<rect x="563" y="629.5" width="4.5" height="3.3" fill="#eee" stroke="#777" stroke-width="0.7" />
<line x1="363.4" y1="622" x2="363.4" y2="637.8" stroke="#777" stroke-width="1" />
<rect x="361.6" y="626" width="3.6" height="7.5" fill="#ccc" stroke="#666" stroke-width="0.8" />
<line x1="505.3" y1="620" x2="505.3" y2="637.8" stroke="#777" stroke-width="1" />
<rect x="503.5" y="625.8" width="3.6" height="7.2" fill="#ccc" stroke="#666" stroke-width="0.8" />
<rect x="422.5" y="617.5" width="16" height="20.3" fill="#fff" stroke="#666" stroke-width="1" />
<polygon points="427,624 435,624 435,629 438,629 438,636.5 423.5,636.5 423.5,629 427,629" fill="#b5b5b5" stroke="#666" stroke-width="0.9" />
<polygon points="501,614 509.6,614 505.3,620.6" fill="#111" stroke="#111" stroke-width="0.5" />
<rect x="568.5" y="624" width="4.5" height="12.8" fill="#ccc" stroke="#555" stroke-width="0.9" />
</g>
<g id="balcony">
<rect x="274.3" y="644.5" width="63.2" height="28.5" fill="#fff" stroke="#8a8a8a" stroke-width="1.1" />
<line x1="274.3" y1="644.5" x2="337.5" y2="673" stroke="#8a8a8a" stroke-width="1" />
<line x1="274.3" y1="673" x2="337.5" y2="644.5" stroke="#8a8a8a" stroke-width="1" />
<rect x="350" y="644.5" width="63.5" height="28.5" fill="#fff" stroke="#8a8a8a" stroke-width="1.1" />
<line x1="350" y1="644.5" x2="413.5" y2="673" stroke="#8a8a8a" stroke-width="1" />
<line x1="350" y1="673" x2="413.5" y2="644.5" stroke="#8a8a8a" stroke-width="1" />
<rect x="565.6" y="644.5" width="64.4" height="28.5" fill="#fff" stroke="#8a8a8a" stroke-width="1.1" />
<line x1="565.6" y1="644.5" x2="630" y2="673" stroke="#8a8a8a" stroke-width="1" />
<line x1="565.6" y1="673" x2="630" y2="644.5" stroke="#8a8a8a" stroke-width="1" />
<rect x="605.6" y="637.6" width="19.4" height="17.4" fill="#e2f1f7" stroke="#7ab5c8" stroke-width="1" fill-opacity="0.8"/>
<rect x="608" y="640" width="14.5" height="12.5" fill="none" stroke="#9ccbd9" stroke-width="0.8" />
<text x="615.5" y="651" font-size="9.5" text-anchor="middle" fill="#3f93ad" font-weight="bold" >B</text>
<text x="404" y="687.5" font-size="13" text-anchor="start" fill="#1d1d1d" font-weight="normal" textLength="48.5" lengthAdjust="spacingAndGlyphs" >Balcony</text>
</g>
<g id="compass" transform="translate(798.4,150) rotate(-8.2)">
<circle cx="0" cy="0" r="19" fill="none" stroke="#858585" stroke-width="1.2" />
<polygon points="3.09474,-9.76025 13.25,-22.9497 6.90526,-7.56025" fill="#fff" stroke="#1a1a1a" stroke-width="0.55" stroke-linejoin="miter"/>
<polygon points="3.09474,-9.76025 13.25,-22.9497 5.28579,-8.49525" fill="#111" stroke="#111" stroke-width="0.4"/>
<polygon points="7.56025,-6.90526 22.9497,-13.25 9.76025,-3.09474" fill="#fff" stroke="#1a1a1a" stroke-width="0.55" stroke-linejoin="miter"/>
<polygon points="7.56025,-6.90526 22.9497,-13.25 8.82525,-4.71421" fill="#111" stroke="#111" stroke-width="0.4"/>
<polygon points="9.76025,3.09474 22.9497,13.25 7.56025,6.90526" fill="#fff" stroke="#1a1a1a" stroke-width="0.55" stroke-linejoin="miter"/>
<polygon points="9.76025,3.09474 22.9497,13.25 8.49525,5.28579" fill="#111" stroke="#111" stroke-width="0.4"/>
<polygon points="6.90526,7.56025 13.25,22.9497 3.09474,9.76025" fill="#fff" stroke="#1a1a1a" stroke-width="0.55" stroke-linejoin="miter"/>
<polygon points="6.90526,7.56025 13.25,22.9497 4.71421,8.82525" fill="#111" stroke="#111" stroke-width="0.4"/>
<polygon points="-3.09474,9.76025 -13.25,22.9497 -6.90526,7.56025" fill="#fff" stroke="#1a1a1a" stroke-width="0.55" stroke-linejoin="miter"/>
<polygon points="-3.09474,9.76025 -13.25,22.9497 -5.28579,8.49525" fill="#111" stroke="#111" stroke-width="0.4"/>
<polygon points="-7.56025,6.90526 -22.9497,13.25 -9.76025,3.09474" fill="#fff" stroke="#1a1a1a" stroke-width="0.55" stroke-linejoin="miter"/>
<polygon points="-7.56025,6.90526 -22.9497,13.25 -8.82525,4.71421" fill="#111" stroke="#111" stroke-width="0.4"/>
<polygon points="-9.76025,-3.09474 -22.9497,-13.25 -7.56025,-6.90526" fill="#fff" stroke="#1a1a1a" stroke-width="0.55" stroke-linejoin="miter"/>
<polygon points="-9.76025,-3.09474 -22.9497,-13.25 -8.49525,-5.28579" fill="#111" stroke="#111" stroke-width="0.4"/>
<polygon points="-6.90526,-7.56025 -13.25,-22.9497 -3.09474,-9.76025" fill="#fff" stroke="#1a1a1a" stroke-width="0.55" stroke-linejoin="miter"/>
<polygon points="-6.90526,-7.56025 -13.25,-22.9497 -4.71421,-8.82525" fill="#111" stroke="#111" stroke-width="0.4"/>
<polygon points="-2.4,-10 0,-111 2.4,-10" fill="#fff" stroke="#1a1a1a" stroke-width="0.55" stroke-linejoin="miter"/>
<polygon points="-2.4,-10 0,-111 0.36,-10" fill="#111" stroke="#111" stroke-width="0.4"/>
<polygon points="10,-2.4 54,-3.30655e-15 10,2.4" fill="#fff" stroke="#1a1a1a" stroke-width="0.55" stroke-linejoin="miter"/>
<polygon points="10,-2.4 54,-3.30655e-15 10,0.36" fill="#111" stroke="#111" stroke-width="0.4"/>
<polygon points="2.4,10 6.67433e-15,54.5 -2.4,10" fill="#fff" stroke="#1a1a1a" stroke-width="0.55" stroke-linejoin="miter"/>
<polygon points="2.4,10 6.67433e-15,54.5 -0.36,10" fill="#111" stroke="#111" stroke-width="0.4"/>
<polygon points="-10,2.4 -54,9.91964e-15 -10,-2.4" fill="#fff" stroke="#1a1a1a" stroke-width="0.55" stroke-linejoin="miter"/>
<polygon points="-10,2.4 -54,9.91964e-15 -10,-0.36" fill="#111" stroke="#111" stroke-width="0.4"/>
<circle cx="0" cy="0" r="9.5" fill="#fff" stroke="#9a9a9a" stroke-width="2.2" />
</g>
<text transform="translate(768.5,40.5) rotate(-6)" font-family="'Liberation Serif', serif" font-style="italic" font-size="28" fill="#111" textLength="24" lengthAdjust="spacingAndGlyphs">N</text>
</svg>
</body></html>
